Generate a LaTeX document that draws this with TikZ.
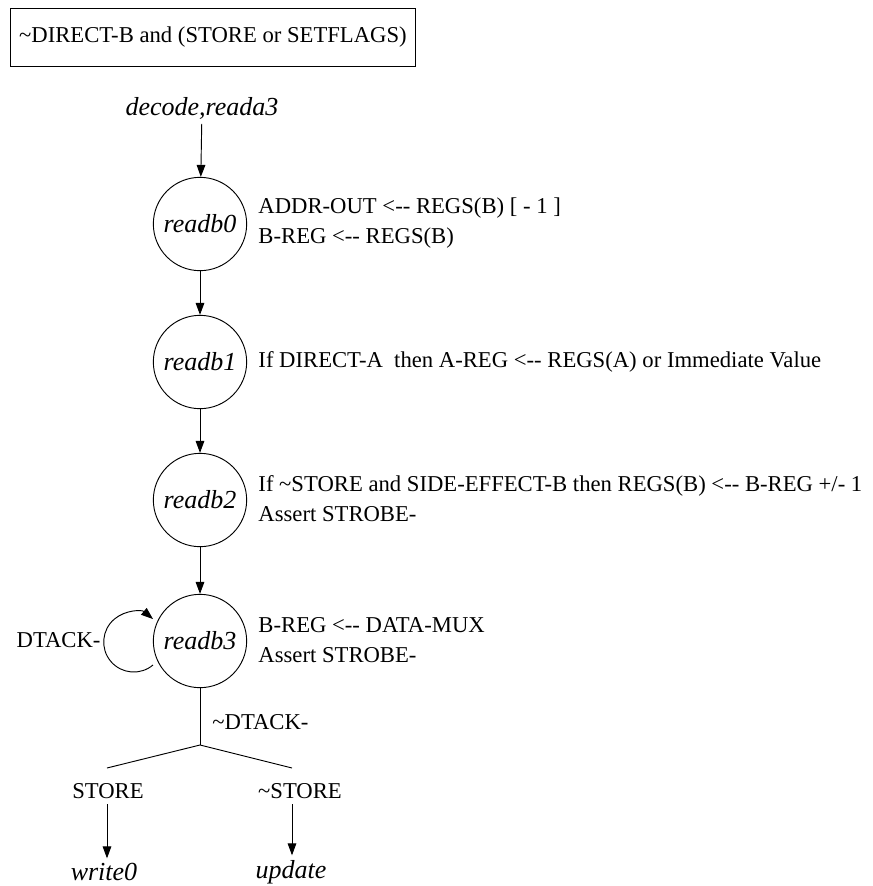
\documentclass[tikz,border=0pt]{standalone}
\usepackage{fontspec}
\setmainfont{Liberation Serif}
\usetikzlibrary{arrows.meta}
\begin{document}
\begin{tikzpicture}[x=0.75pt,y=-0.75pt,
  txt/.style={font=\fontsize{17}{22.5}\selectfont},
  itxt/.style={font=\fontsize{19.5}{24}\selectfont\itshape},
  state/.style={draw,circle,minimum size=70pt,inner sep=0pt,itxt},
  act/.style={anchor=west,align=left,inner sep=0pt,txt},
  flow/.style={-{Triangle[length=9pt,width=6.5pt]}},
  every path/.style={line width=0.7pt}]
\useasboundingbox (0,0) rectangle (873,886);
% guard condition box
\node[draw,txt,minimum width=303.75pt,minimum height=43.5pt,anchor=north west,inner sep=0pt] (guard) at (10,8) {\textasciitilde DIRECT-B and (STORE or SETFLAGS)};
% entry
\node[itxt] (entry) at (202,108) {decode,reada3};
% states
\node[state] (s0) at (200,224) {readb0};
\node[state] (s1) at (200,362) {readb1};
\node[state] (s2) at (200,500) {readb2};
\node[state] (s3) at (200,641) {readb3};
% actions
\node[act] (a0) at (258,223) {ADDR-OUT <-{}- REGS(B) [ - 1 ]\\B-REG <-{}- REGS(B)};
\node[act] (a1) at (258,362) {If DIRECT-A\ \ then A-REG <-{}- REGS(A) or Immediate Value};
\node[act] (a2) at (258,499) {If \textasciitilde STORE and SIDE-EFFECT-B then REGS(B) <-{}- B-REG +/- 1\\Assert STROBE-};
\node[act] (a3) at (258,640) {B-REG <-{}- DATA-MUX\\Assert STROBE-};
% transitions
\draw[flow] (entry) -- (s0);
\draw[flow] (s0) -- (s1);
\draw[flow] (s1) -- (s2);
\draw[flow] (s2) -- (s3);
% wait loop on readb3
\node[anchor=east,inner sep=0pt,txt] (dt) at (101,640) {DTACK-};
\coordinate (loopout) at (153,665);
\draw[flow] (loopout) arc[start angle=50,end angle=310,radius=30];
% branch after readb3
\coordinate (fork) at (200,745);
\coordinate (lb) at (107,768);
\coordinate (rb) at (292,768);
\draw (s3) -- (fork);
\draw (lb) -- (fork) -- (rb);
\node[anchor=west,inner sep=0pt,txt] (ndt) at (212,722) {\textasciitilde DTACK-};
\node[txt] (st) at (108,791) {STORE};
\node[txt] (nst) at (300,791) {\textasciitilde STORE};
\node[itxt] (w0) at (104,872) {write0};
\node[itxt] (up) at (291,872) {update};
\coordinate (stb) at (107,804);
\coordinate (nstb) at (292,804);
\draw[flow] (stb) -- (stb |- w0.north);
\draw[flow] (nstb) -- (nstb |- up.north);
\end{tikzpicture}
\end{document}
